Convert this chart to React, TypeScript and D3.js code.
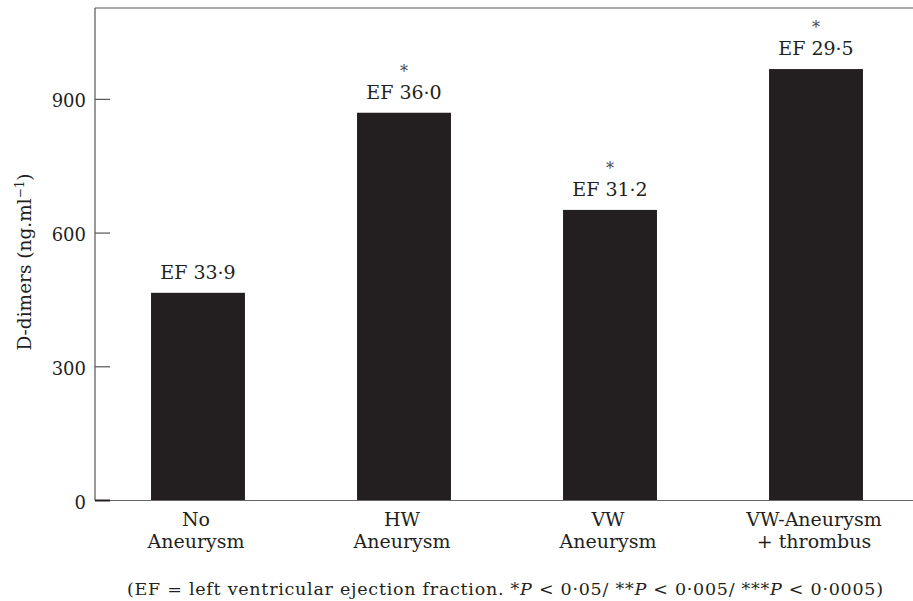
import React from 'react';
import * as d3 from 'd3';

const width = 913, height = 601,
    margin = { top: 8, left: 95, bottom: 100.5 }

// chart data
const categories = [['No', 'Aneurysm'], ['HW', 'Aneurysm'], ['VW', 'Aneurysm'], ['VW-Aneurysm', '+ thrombus']];
const dDimers = [466, 870, 652, 968];
const efLabels = ['EF 33·9', 'EF 36·0', 'EF 31·2', 'EF 29·5'];
const significant = [false, true, true, true];
const yTicks = [0, 300, 600, 900];

const ink = '#231f20';
const font = '"DejaVu Serif", serif';

export default function App() {
    // scales for bars
    const xScale = d3.scaleBand<number>()
        .domain(d3.range(dDimers.length))
        .range([margin.left, 919])
        .paddingInner(0.544)
        .paddingOuter(0.272);

    const yScale = d3.scaleLinear()
        .domain([0, 1105])
        .range([height - margin.bottom, margin.top]);

    const y0 = yScale(0);

    return (
        <svg width={width} height={height} viewBox={`0 0 ${width} ${height}`}
            style={{ position: 'absolute', left: 0, top: 0, background: '#fff' }}
            fontFamily={font} fill={ink}>
            {/* frame: top line, y axis, baseline */}
            <line x1={margin.left} x2={width} y1={margin.top} y2={margin.top} stroke="#555" strokeWidth={1.2} />
            <line x1={margin.left} x2={margin.left} y1={margin.top} y2={y0} stroke="#555" strokeWidth={1.2} />

            {/* bars */}
            {dDimers.map((v, i) => (
                <rect key={i} x={xScale(i)} y={yScale(v)} width={xScale.bandwidth()}
                    height={y0 - yScale(v)} fill={ink} />
            ))}
            <line x1={margin.left} x2={width} y1={y0} y2={y0} stroke="#666" strokeWidth={1.2} />

            {/* y ticks */}
            {yTicks.map(t => (
                <g key={t} transform={`translate(0, ${yScale(t)})`}>
                    <line x1={margin.left} x2={margin.left + 15} stroke={t === 0 ? ink : '#555'}
                        strokeWidth={t === 0 ? 2 : 1.2} />
                    <text x={86} dy={8} textAnchor="end" fontSize={18}>{t}</text>
                </g>
            ))}

            {/* y axis title */}
            <text transform={`translate(31, 262) rotate(-90)`} textAnchor="middle" fontSize={18.5}>
                D-dimers (ng.ml<tspan dy={-7} fontSize={12}>−1</tspan><tspan dy={7}>)</tspan>
            </text>

            {/* value labels */}
            {dDimers.map((v, i) => {
                const cx = xScale(i)! + xScale.bandwidth() / 2;
                const top = yScale(v);
                return (
                    <g key={i}>
                        <text x={cx} y={top - 14} textAnchor="middle" fontSize={19}>{efLabels[i]}</text>
                        {significant[i] && <text x={cx} y={top - 36} textAnchor="middle" fontSize={16} fill="#444">*</text>}
                    </g>
                )
            })}

            {/* category labels, one text per line */}
            {categories.map((c, i) => {
                const cx = xScale(i)! + xScale.bandwidth() / 2 - 2;
                return (
                    <g key={i}>
                        <text x={cx} y={526} textAnchor="middle" fontSize={19}>{c[0]}</text>
                        <text x={cx} y={548} textAnchor="middle" fontSize={19}>{c[1]}</text>
                    </g>
                )
            })}

            {/* footnote */}
            <text x={127} y={595} fontSize={17.5} textLength={756} lengthAdjust="spacing">
                (EF = left ventricular ejection fraction. *<tspan fontStyle="italic">P</tspan> &lt; 0·05/ **<tspan fontStyle="italic">P</tspan> &lt; 0·005/ ***<tspan fontStyle="italic">P</tspan> &lt; 0·0005)
            </text>
        </svg>
    )
}
